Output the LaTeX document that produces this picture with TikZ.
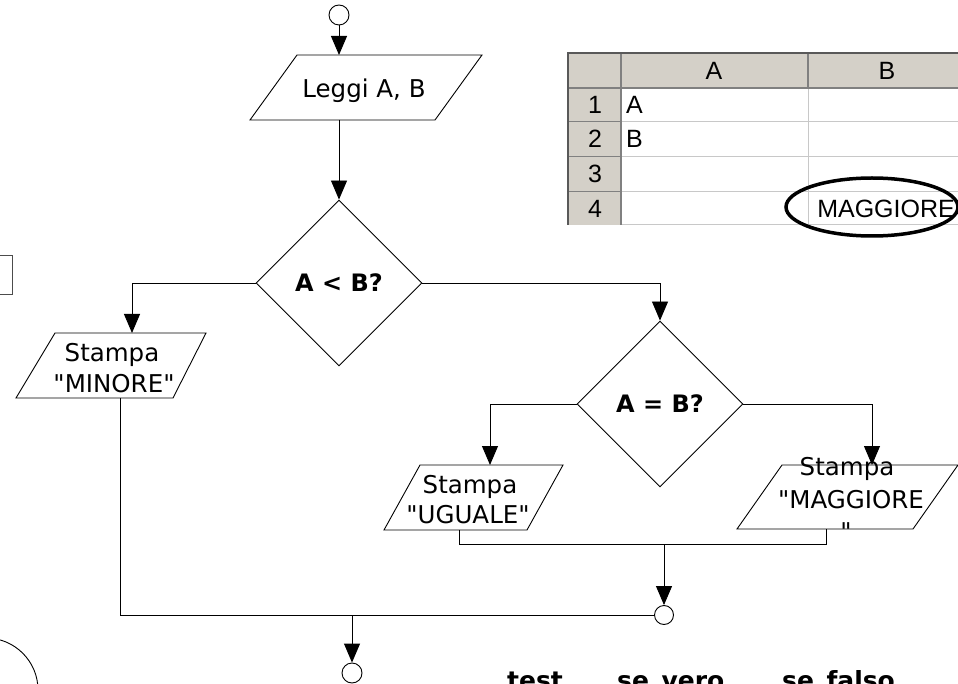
\documentclass[tikz,border=0pt]{standalone}
\usepackage{fontspec}
\setmainfont{DejaVu Sans}[Ligatures=TeXOff]
\newfontfamily\xlfont{Liberation Sans}[Ligatures=TeXOff]
\usetikzlibrary{arrows.meta,shapes.geometric}
\definecolor{xlgray}{HTML}{D4D0C8}
\definecolor{xldark}{HTML}{808080}
\definecolor{xllight}{HTML}{C8C8C8}
\begin{document}
\begin{tikzpicture}[x=1pt,y=-1pt,
  flow/.style={draw=black,line width=0.9pt},
  arr/.style={flow,-{Triangle[width=16pt,length=19pt]}},
  ftxt/.style={font=\fontsize{24.5}{28}\selectfont,inner sep=0pt,anchor=base},
  dec/.style={diamond,draw=black,line width=0.9pt,minimum width=166pt,minimum height=166pt,inner sep=0pt,aspect=1,font=\bfseries\fontsize{24}{28}\selectfont},
  conn/.style={circle,draw=black,line width=0.9pt,inner sep=0pt,fill=white},
  xltxt/.style={font=\xlfont\fontsize{25}{28}\selectfont,inner sep=0pt},
  btxt/.style={font=\bfseries\fontsize{25}{28}\selectfont,inner sep=0pt,anchor=base west}]
\useasboundingbox (0,0) rectangle (958,684);
\clip (0,0) rectangle (958,684);
\fill[white] (0,0) rectangle (958,684);

% ---------- spreadsheet ----------
\fill[white] (568,53) rectangle (958,225);
\fill[xlgray] (568,53) rectangle (958,88);
\fill[xlgray] (568,88) rectangle (621,225);
\draw[xllight,line width=1pt] (621,122) -- (958,122) (621,157) -- (958,157) (621,192) -- (958,192) (808,88) -- (808,225) (621,225) -- (958,225);
\draw[xldark,line width=1pt] (568,122) -- (621,122) (568,157) -- (621,157) (568,192) -- (621,192);
\draw[xldark,line width=1.2pt] (568,88) -- (958,88) (621,53) -- (621,225) (808,53) -- (808,88);
\draw[black!65,line width=1.6pt] (568,225) -- (568,53) -- (958,53);
\node[xltxt] (hA) at (714,71) {A};
\node[xltxt] (hB) at (887,71) {B};
\node[xltxt,anchor=base] (r1) at (595,114) {1};
\node[xltxt,anchor=base] (r2) at (595,148) {2};
\node[xltxt,anchor=base] (r3) at (595,183) {3};
\node[xltxt,anchor=base] (r4) at (595,218) {4};
\node[xltxt,anchor=base west] (cA) at (626,114) {A};
\node[xltxt,anchor=base west] (cB) at (626,148) {B};
\node[xltxt,anchor=base east] (cM) at (955,218) {MAGGIORE};
\draw[black,line width=3.5pt] (872,207) ellipse (86 and 29);

% ---------- left fragments ----------
\draw[black!70,line width=1pt] (-5,256) rectangle (12,295);
\draw[flow] (-14,690) circle (52);

% ---------- flowchart shapes ----------
\node[conn,minimum size=20pt] (start) at (339,15) {};
\coordinate (leggiT) at (339,55);
\coordinate (leggiB) at (339,120);
\draw[flow] (250,120) -- (435,120) -- (482,55) -- (297,55) -- cycle;
\node[ftxt] (leggi) at (364,98) {Leggi A, B};

\node[dec] (d1) at (339,283) {A < B?};
\node[dec] (d2) at (660,404) {A = B?};

\coordinate (minT) at (132,333);
\coordinate (minB) at (120,398);
\draw[flow] (16,398) -- (173,398) -- (206,333) -- (55,333) -- cycle;
\node[ftxt] (min1) at (112,362) {Stampa};
\node[ftxt] (min2) at (114,392) {"MINORE"};

\coordinate (ugT) at (490,465);
\coordinate (ugB) at (459,530);
\draw[flow] (384,530) -- (527,530) -- (563,465) -- (420,465) -- cycle;
\node[ftxt] (ug1) at (470,493) {Stampa};
\node[ftxt] (ug2) at (468,523) {"UGUALE"};

\coordinate (magT) at (872,465);
\coordinate (magB) at (826,529);
\draw[flow] (737,529) -- (913,529) -- (958,465) -- (782,465) -- cycle;

\node[conn,minimum size=19pt] (junc) at (664,615) {};
\node[conn,minimum size=20pt] (stop) at (352,673) {};
\coordinate (mergeM) at (664,544);
\coordinate (endS) at (352,615);

% ---------- connectors ----------
\draw[arr] (start.south) -- (leggiT);
\draw[arr] (leggiB) -- (d1.north);
\draw[arr] (d1.west) -| (minT);
\draw[arr] (d1.east) -| (d2.north);
\draw[arr] (d2.west) -| (ugT);
\draw[arr] (d2.east) -| (magT);
\draw[flow] (ugB) -- (459,544) -| (magB);
\draw[arr] (mergeM) -- (junc.north);
\draw[flow] (minB) |- (junc.west);
\draw[arr] (endS) -- (stop.north);

\node[ftxt] (mag1) at (847,475) {Stampa};
\node[ftxt] (mag2) at (851,508) {"MAGGIORE};
\node[ftxt] (mag3) at (846,540) {"};

% ---------- bottom labels ----------
\node[btxt] (t1) at (507,689) {test};
\node[btxt] (t2) at (617,689) {se\_vero};
\node[btxt] (t3) at (782,689) {se\_falso};
\end{tikzpicture}
\end{document}
